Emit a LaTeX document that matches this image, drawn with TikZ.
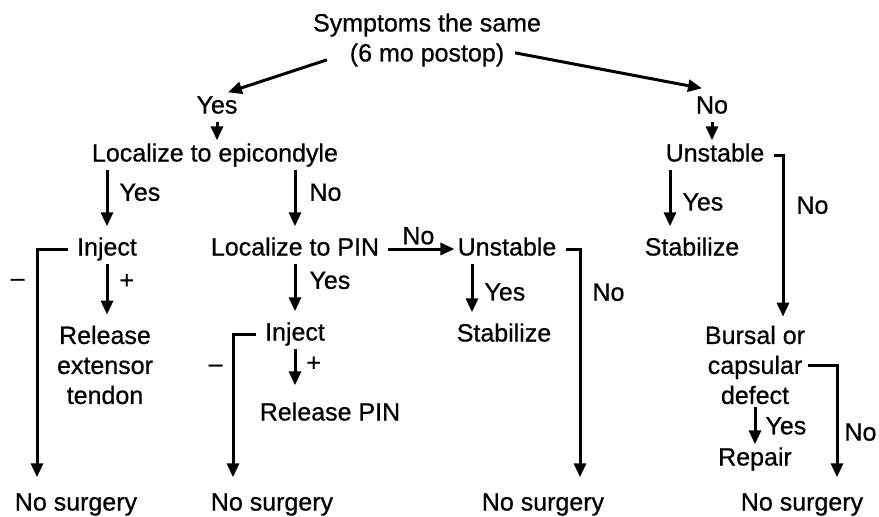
\documentclass[tikz,border=0pt]{standalone}
\usepackage{fontspec}
\setmainfont{Liberation Sans}[FakeBold=0.7]
\usetikzlibrary{arrows.meta}

\begin{document}
\begin{tikzpicture}[x=1pt, y=-1pt,
    every node/.style={font=\fontsize{25}{30}\selectfont, inner sep=3pt},
    box/.style={text height=18pt, text depth=5pt},
    multi/.style={align=center},
    arrow/.style={-{Triangle[length=14pt, width=12pt]}, line width=3pt},
    drop/.style={arrow, shorten >=8pt},
    elbow/.style={arrow, shorten <=6pt, shorten >=12pt}
]
\useasboundingbox (0,0) rectangle (879,517);

% question and first split
\node[multi] (top) at (427,40) {Symptoms the same\\(6 mo postop)};
\node[box] (yes) at (217,107) {Yes};
\node[box] (no) at (712,107) {No};

% left branch
\node[box] (epi) at (215,155) {Localize to epicondyle};
\node[box] (inj1) at (107,249) {Inject};
\node[box] (pin) at (295,249) {Localize to PIN};
\node[box] (uns1) at (507,249) {Unstable};
\node[multi] (rel1) at (105,365) {Release\\extensor\\tendon};
\node[box] (inj2) at (295,334) {Inject};
\node[box] (stab1) at (504,335) {Stabilize};
\node[box] (rel2) at (330,414) {Release PIN};

% right branch
\node[box] (uns2) at (715,155) {Unstable};
\node[box] (stab2) at (692,249) {Stabilize};
\node[multi] (burs) at (755,365) {Bursal or\\capsular\\defect};
\node[box] (rep) at (755,459) {Repair};

% outcomes
\node[box] (nos1) at (76,504) {No surgery};
\node[box] (nos2) at (272,504) {No surgery};
\node[box] (nos3) at (543,504) {No surgery};
\node[box] (nos4) at (802,504) {No surgery};

% corners of the elbow lines
\coordinate (c1) at (37,249);
\coordinate (c2) at (233,334);
\coordinate (c3) at (580,249);
\coordinate (c4) at (783,155);
\coordinate (c5) at (837,365);

% first split
\draw[arrow] ([xshift=17pt,yshift=10pt]top.south west) -- ([xshift=11pt]yes.north);
\draw[arrow] ([xshift=-29pt,yshift=17pt]top.south east) -- ([xshift=-10pt,yshift=4pt]no.north);
\draw[arrow] (yes) -- (yes |- epi.north);
\draw[arrow] (no) -- (no |- uns2.north);

% epicondyle
\draw[drop] (epi.south -| inj1) -- node[pos=0.35, right=8pt] {Yes} (inj1);
\draw[drop] (epi.south -| pin) -- node[pos=0.35, right=10pt] {No} (pin);
\draw[elbow] (inj1.west) -- (c1) -- node[pos=0.14, left=8pt] {--} (c1 |- nos1.north);
\draw[drop] (inj1) -- node[pos=0.3, right=8pt] {+} (inj1 |- rel1.north);

% posterior interosseous nerve
\draw[arrow, shorten <=6pt] (pin) -- node[above] {No} (uns1);
\draw[drop] (pin) -- node[pos=0.3, right=10pt] {Yes} (inj2);
\draw[elbow] (inj2.west) -- (c2) -- node[pos=0.22, left=6pt] {--} (c2 |- nos2.north);
\draw[arrow, shorten >=14pt] (inj2) -- node[pos=0.3, right=7pt] {+} (inj2 |- rel2.north);

% instability, left
\draw[drop] ([xshift=-35pt]uns1.south) -- node[right=8pt] {Yes} ([xshift=-32pt]stab1.north);
\draw[elbow] (uns1.east) -- (c3) -- node[pos=0.18, right=8pt] {No} (c3 |- nos3.north);

% instability, right
\draw[drop] ([xshift=-45pt]uns2.south) -- node[right=8pt] {Yes} ([xshift=-22pt]stab2.north);
\draw[elbow, shorten >=6pt] (uns2.east) -- (c4) -- node[pos=0.3, right=9pt] {No} (c4 |- burs.north);
\draw[arrow] (burs) -- node[right=6pt] {Yes} (rep);
\draw[elbow, shorten <=0pt] (burs.east) -- (c5) -- node[pos=0.54, right=3pt] {No} (c5 |- nos4.north);

\end{tikzpicture}
\end{document}
